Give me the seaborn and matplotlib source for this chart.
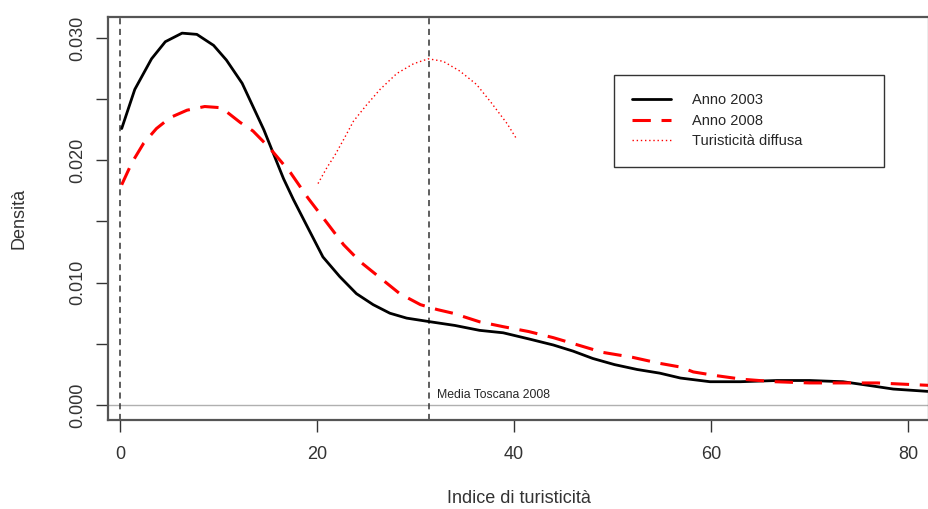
import numpy as np
import pandas as pd
import matplotlib
matplotlib.use('Agg')
import matplotlib.pyplot as plt
import seaborn as sns

# densita'
x_2003 = [0.17, 1.5, 3.2, 4.6, 6.3, 7.8, 9.5, 10.8, 12.4, 13.5, 14.6, 15.6, 16.6,
          17.6, 19.0, 20.6, 22.3, 24.0, 25.7, 27.4, 29.1, 31.5, 34.0, 36.5, 38.9,
          41.5, 44.0, 46.0, 48.0, 50.2, 52.5, 54.8, 56.9, 59.9, 63.0, 66.7, 70.0,
          73.4, 76.0, 78.5, 82.2]
y_2003 = [0.0226, 0.0258, 0.0283, 0.0297, 0.0304, 0.0303, 0.0294, 0.0282, 0.0263,
          0.0244, 0.0225, 0.0205, 0.0185, 0.0168, 0.0146, 0.0121, 0.0105, 0.0091,
          0.0082, 0.0075, 0.0071, 0.0068, 0.0065, 0.0061, 0.0059, 0.0054, 0.0049,
          0.0044, 0.0038, 0.0033, 0.0029, 0.0026, 0.0022, 0.0019, 0.0019, 0.0020,
          0.0020, 0.0019, 0.0016, 0.0013, 0.0011]

x_2008 = [0.17, 1.2, 2.4, 3.7, 5.1, 6.8, 8.6, 10.3, 12.2, 13.5, 15.2, 17.3, 19.1,
          21.0, 22.7, 24.4, 26.4, 28.4, 30.5, 32.2, 33.8, 36.5, 38.9, 41.5, 44.0,
          46.5, 49.0, 52.0, 54.8, 56.9, 58.2, 60.5, 63.2, 66.5, 70.0, 73.5, 76.9,
          79.5, 82.2]
y_2008 = [0.0180, 0.0198, 0.0214, 0.0226, 0.0235, 0.0241, 0.0244, 0.0243, 0.0231,
          0.0224, 0.0210, 0.0190, 0.0169, 0.0149, 0.0131, 0.0117, 0.0104, 0.0091,
          0.0082, 0.0078, 0.0075, 0.0068, 0.0064, 0.0060, 0.0055, 0.0049, 0.0043,
          0.0039, 0.0034, 0.0031, 0.0027, 0.0024, 0.0021, 0.0019, 0.0018, 0.0018,
          0.0018, 0.0017, 0.0016]

x_diff = [20.1, 21.0, 21.8, 22.7, 23.7, 25.0, 26.4, 28.1, 29.8, 31.3, 32.8, 34.5,
          36.2, 37.7, 39.3, 40.3]
y_diff = [0.0181, 0.0194, 0.0204, 0.0217, 0.0232, 0.0245, 0.0258, 0.0271, 0.0279,
          0.0283, 0.0281, 0.0273, 0.0262, 0.0247, 0.0230, 0.0217]

media_toscana = 31.4
x_ticks = [0, 20, 40, 60, 80]
y_ticks = [0.000, 0.005, 0.010, 0.015, 0.020, 0.025, 0.030]
y_ticklabels = ['0.000', '', '0.010', '', '0.020', '', '0.030']

sns.set_style('white')
plt.rcParams['font.family'] = ['Liberation Sans Narrow', 'Liberation Sans', 'DejaVu Sans']

fig = plt.figure(figsize=(9.29, 5.09), dpi=100)
ax = fig.add_axes([108 / 929, 1 - 420 / 509, 821 / 929, 403 / 509])

ax.axhline(0, color='#b0b0b0', lw=1, zorder=1)
ax.axvline(0, color='#333333', lw=1.1, ls=(0, (4, 3)), zorder=1)
ax.axvline(media_toscana, color='#333333', lw=1.1, ls=(0, (4, 3)), zorder=1)

d03 = pd.DataFrame({'x': x_2003, 'y': y_2003})
d08 = pd.DataFrame({'x': x_2008, 'y': y_2008})
ddf = pd.DataFrame({'x': x_diff, 'y': y_diff})

sns.lineplot(data=d03, x='x', y='y', ax=ax, color='black', lw=2,
             label='Anno 2003', sort=False)
sns.lineplot(data=d08, x='x', y='y', ax=ax, color='red', lw=2.2,
             label='Anno 2008', sort=False)
ax.lines[-1].set_linestyle((0, (6, 3.5)))
sns.lineplot(data=ddf, x='x', y='y', ax=ax, color='red', lw=1,
             label='Turisticità diffusa', sort=False)
ax.lines[-1].set_linestyle((0, (1, 2)))
for ln in ax.lines:
    ln.set_solid_joinstyle('round')
    ln.set_dash_joinstyle('round')

ax.text(32.2, 0.0006, 'Media Toscana 2008', fontsize=8.8,
        family=['Liberation Sans', 'DejaVu Sans'])

ax.set_xlim(-1.22, 82.13)
ax.set_ylim(-0.00123, 0.03172)
ax.set_xticks(x_ticks)
ax.set_xticklabels([str(v) for v in x_ticks], fontsize=13)
ax.set_yticks(y_ticks)
ax.set_yticklabels(y_ticklabels, fontsize=13, rotation=90, va='center')
ax.tick_params(axis='both', direction='out', length=8.5, width=1,
               bottom=True, left=True,
               color='#333333', labelcolor='#333333')
ax.tick_params(axis='x', pad=10)
ax.tick_params(axis='y', pad=7)
ax.set_xlabel('Indice di turisticità', fontsize=13, color='#333333', labelpad=20)
ax.set_ylabel('Densità', fontsize=13, color='#333333', labelpad=30)
for s in ax.spines.values():
    s.set_color('#555555')
    s.set_linewidth(1.6)

leg = ax.legend(loc='upper left', bbox_to_anchor=(0.616, 0.645, 0.329, 0.211),
                mode='expand', frameon=True, fancybox=False, edgecolor='black',
                prop={'family': ['Liberation Sans', 'DejaVu Sans'], 'size': 10.5},
                handlelength=2.7, handletextpad=1.45, borderpad=1.25,
                labelspacing=0.45, borderaxespad=0)
leg.get_frame().set_linewidth(1)

fig.savefig('out.png', dpi=100)
